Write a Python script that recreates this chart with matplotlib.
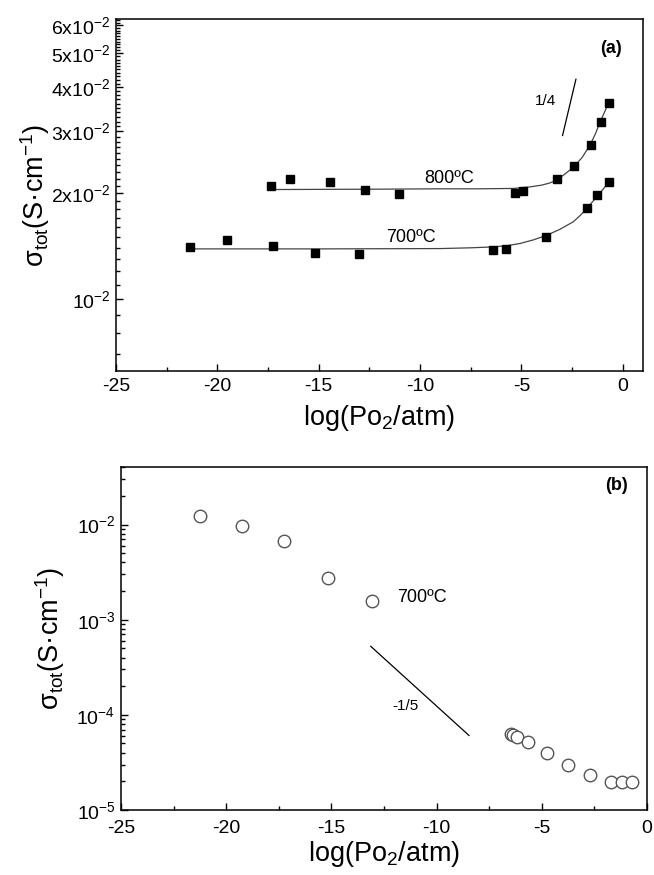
import matplotlib
matplotlib.use("Agg")
import matplotlib.pyplot as plt
import matplotlib.ticker as ticker
import numpy as np

# (a) total conductivity vs log(pO2), filled squares
x_800 = [-17.37, -16.42, -14.44, -12.72, -11.04, -5.32, -4.91, -3.26, -2.40, -1.57, -1.09, -0.68]
s_800 = [2.10e-2, 2.19e-2, 2.15e-2, 2.04e-2, 1.99e-2, 2.00e-2, 2.03e-2, 2.19e-2, 2.39e-2, 2.75e-2, 3.20e-2, 3.62e-2]
x_700 = [-21.35, -19.52, -17.27, -15.18, -13.01, -6.42, -5.76, -3.79, -1.78, -1.26, -0.69]
s_700 = [1.405e-2, 1.47e-2, 1.42e-2, 1.357e-2, 1.34e-2, 1.377e-2, 1.39e-2, 1.50e-2, 1.82e-2, 1.975e-2, 2.15e-2]

# fitted lines
fit_x_800 = [-17.4, -12.0, -9.0, -7.0, -5.4, -4.6, -4.0, -3.6, -3.26, -2.85, -2.44, -2.0, -1.62, -1.35, -1.12, -0.9, -0.71]
fit_s_800 = [2.05e-2, 2.055e-2, 2.06e-2, 2.06e-2, 2.065e-2, 2.085e-2, 2.11e-2, 2.14e-2, 2.18e-2, 2.27e-2, 2.37e-2, 2.53e-2, 2.74e-2, 2.95e-2, 3.19e-2, 3.40e-2, 3.61e-2]
fit_x_700 = [-21.35, -15.0, -9.0, -7.5, -6.4, -5.7, -5.07, -4.4, -3.75, -3.1, -2.44, -2.1, -1.78, -1.5, -1.21, -0.95, -0.71]
fit_s_700 = [1.39e-2, 1.39e-2, 1.393e-2, 1.40e-2, 1.408e-2, 1.42e-2, 1.44e-2, 1.475e-2, 1.52e-2, 1.58e-2, 1.66e-2, 1.73e-2, 1.81e-2, 1.89e-2, 1.975e-2, 2.06e-2, 2.15e-2]

slope_a_x = [-2.97, -2.31]
slope_a_s = [2.92e-2, 4.22e-2]

# (b) open circles, 700 C
x_b = [-21.25, -19.23, -17.25, -15.17, -13.06, -6.45, -6.35, -6.20, -5.64, -4.77, -3.77, -2.73, -1.71, -1.21, -0.70]
s_b = [1.243e-2, 9.74e-3, 6.79e-3, 2.76e-3, 1.585e-3, 6.3e-5, 6.1e-5, 5.87e-5, 5.13e-5, 3.96e-5, 2.96e-5, 2.33e-5, 1.96e-5, 1.95e-5, 1.98e-5]

slope_b_x = [-13.13, -8.46]
slope_b_s = [5.25e-4, 6.07e-5]

ytick_a = [1e-2, 2e-2, 3e-2, 4e-2, 5e-2, 6e-2]
ytick_a_labels = [r"$10^{-2}$", r"$2\mathrm{x}10^{-2}$", r"$3\mathrm{x}10^{-2}$",
                  r"$4\mathrm{x}10^{-2}$", r"$5\mathrm{x}10^{-2}$", r"$6\mathrm{x}10^{-2}$"]
ytick_b = [1e-5, 1e-4, 1e-3, 1e-2]
ytick_b_labels = [r"$10^{-5}$", r"$10^{-4}$", r"$10^{-3}$", r"$10^{-2}$"]

ylab = r"σ$_{\mathrm{tot}}$(S·cm$^{-1}$)"
xlab = r"log(Po$_{2}$/atm)"


def style_axes(ax, xpad=4):
    for sp in ax.spines.values():
        sp.set_linewidth(1.1)
    ax.tick_params(which="both", direction="in", top=False, right=False,
                   labelsize=14, width=1.0)
    ax.tick_params(axis="x", which="both", pad=xpad)
    ax.tick_params(axis="y", which="both", pad=4)
    ax.tick_params(which="major", length=5)
    ax.tick_params(which="minor", length=3)


def main():
    plt.rcParams["font.family"] = ["Liberation Sans", "DejaVu Sans"]
    plt.rcParams["mathtext.fontset"] = "custom"
    plt.rcParams["mathtext.rm"] = "Liberation Sans"
    plt.rcParams["mathtext.it"] = "Liberation Sans:italic"
    plt.rcParams["mathtext.bf"] = "Liberation Sans:bold"
    plt.rcParams["axes.unicode_minus"] = False

    fig = plt.figure(figsize=(6.54, 8.75), dpi=100)

    # ---- panel (a)
    ax = fig.add_axes([0.1774, 0.576, 0.8058, 0.402])
    ax.plot(fit_x_800, fit_s_800, color="#444444", lw=0.9)
    ax.plot(fit_x_700, fit_s_700, color="#444444", lw=0.9)
    ax.plot(x_800, s_800, "s", color="black", ms=6)
    ax.plot(x_700, s_700, "s", color="black", ms=6)
    ax.plot(slope_a_x, slope_a_s, color="black", lw=0.9)
    ax.set_yscale("log")
    ax.set_xlim(-25, 1)
    ax.set_ylim(6.25e-3, 6.25e-2)
    ax.xaxis.set_major_locator(ticker.MultipleLocator(5))
    ax.xaxis.set_minor_locator(ticker.MultipleLocator(2.5))
    ax.yaxis.set_major_locator(ticker.FixedLocator(ytick_a))
    ax.yaxis.set_major_formatter(ticker.FixedFormatter(ytick_a_labels))
    minors = [v * 1e-3 for v in range(6, 63) if v % 10 != 0]
    ax.yaxis.set_minor_locator(ticker.FixedLocator(minors))
    ax.yaxis.set_minor_formatter(ticker.NullFormatter())
    style_axes(ax, xpad=5)
    ax.set_ylabel(ylab, fontsize=19.5)
    ax.yaxis.set_label_coords(-0.121, 0.5)
    ax.set_xlabel(xlab, fontsize=19.5, labelpad=6)
    ax.text(-8.57, 2.21e-2, "800ºC", fontsize=13, ha="center", va="center")
    ax.text(-10.45, 1.50e-2, "700ºC", fontsize=13, ha="center", va="center")
    ax.text(-3.79, 3.65e-2, "1/4", fontsize=11, ha="center", va="center")
    ax.text(-0.58, 5.16e-2, "(a)", fontsize=13, fontweight="bold", ha="center", va="center")

    # ---- panel (b)
    bx = fig.add_axes([0.185, 0.0743, 0.8043, 0.3917])
    bx.plot(x_b, s_b, "o", mfc="white", mec="#555555", mew=1.0, ms=9)
    bx.plot(slope_b_x, slope_b_s, color="black", lw=0.9)
    bx.set_yscale("log")
    bx.set_xlim(-25, 0)
    bx.set_ylim(1e-5, 4e-2)
    bx.xaxis.set_major_locator(ticker.MultipleLocator(5))
    bx.xaxis.set_minor_locator(ticker.MultipleLocator(2.5))
    bx.yaxis.set_major_locator(ticker.FixedLocator(ytick_b))
    bx.yaxis.set_major_formatter(ticker.FixedFormatter(ytick_b_labels))
    bx.yaxis.set_minor_locator(ticker.LogLocator(base=10, subs=np.arange(2, 10)))
    bx.yaxis.set_minor_formatter(ticker.NullFormatter())
    style_axes(bx, xpad=7)
    bx.set_ylabel(ylab, fontsize=19.5)
    bx.yaxis.set_label_coords(-0.103, 0.5)
    bx.set_xlabel(xlab, fontsize=19.5, labelpad=2)
    bx.text(-11.88, 1.70e-3, "700ºC", fontsize=13, ha="left", va="center")
    bx.text(-11.5, 1.25e-4, "-1/5", fontsize=11, ha="center", va="center")
    bx.text(-1.47, 2.55e-2, "(b)", fontsize=13, fontweight="bold", ha="center", va="center")

    fig.savefig("out.png", dpi=100)


if __name__ == "__main__":
    main()
